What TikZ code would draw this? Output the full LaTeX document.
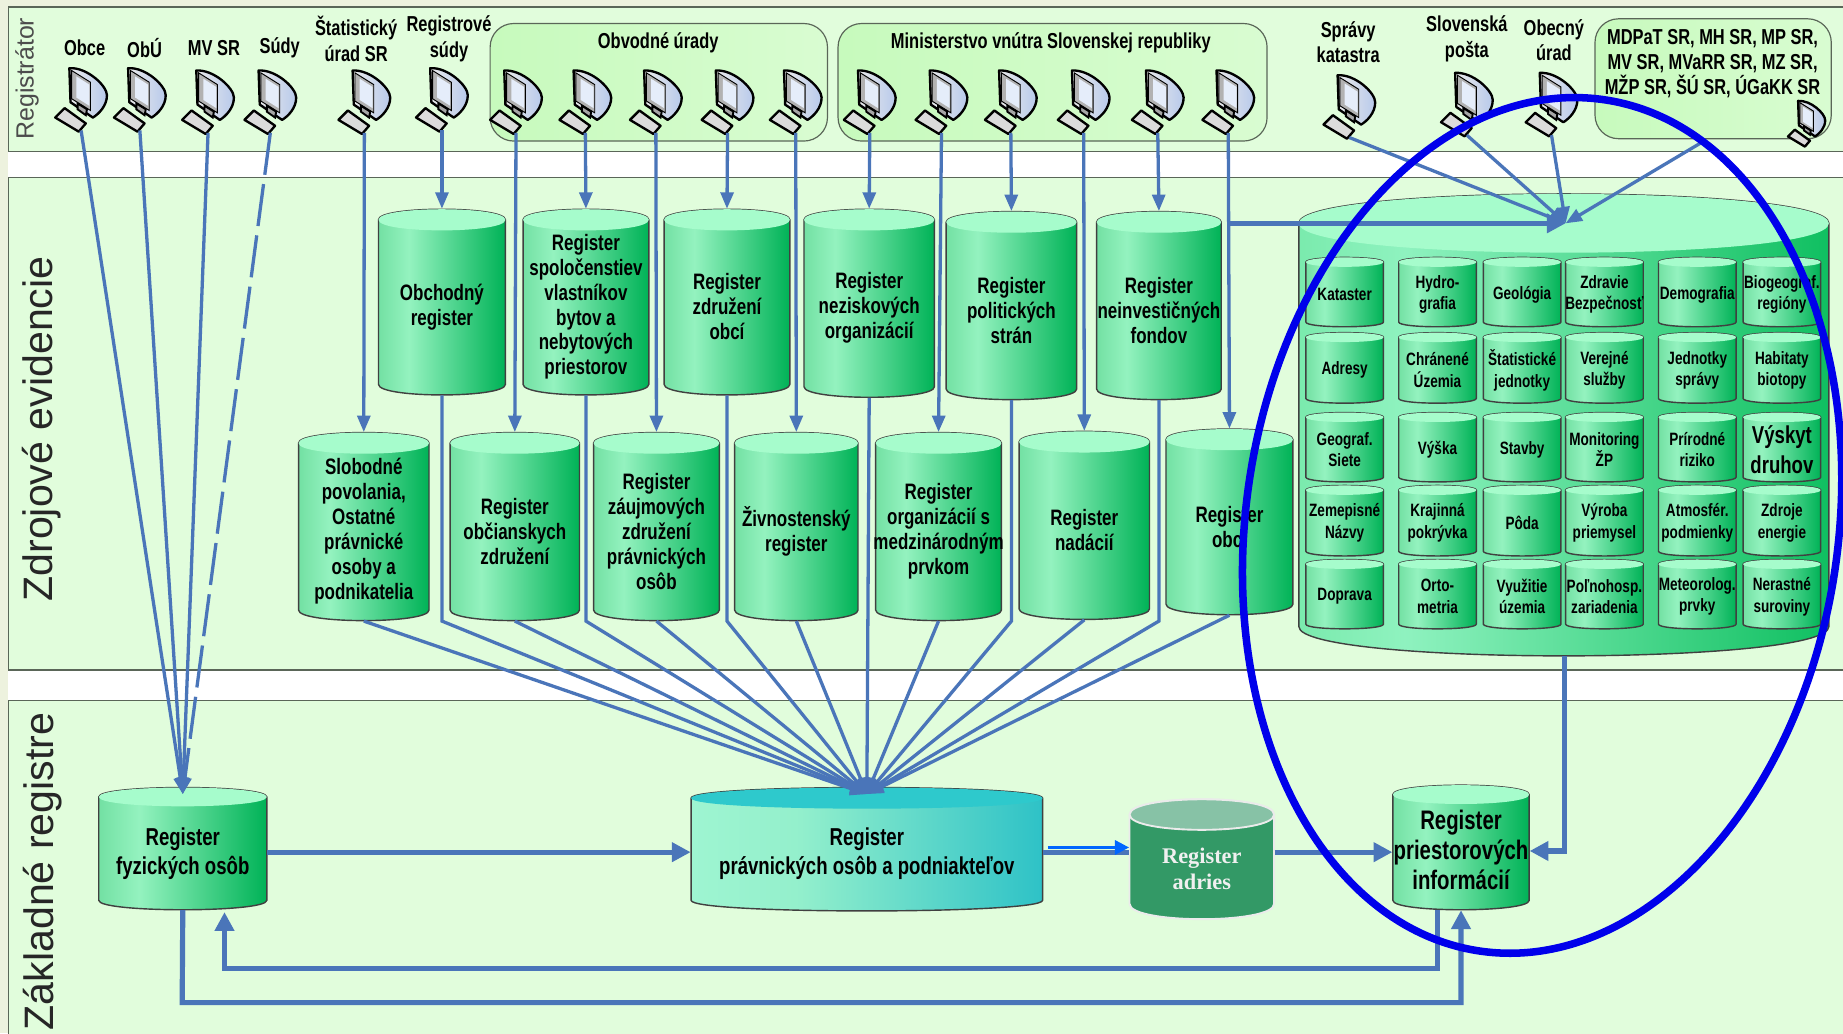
\documentclass[tikz,border=0pt]{standalone}
\usepackage{fontspec}
\usetikzlibrary{arrows.meta}
\newfontfamily\regfont[FakeStretch=.76]{Liberation Sans}
\newfontfamily\bandfont{Liberation Sans}
\newfontfamily\adrfont{Liberation Serif}
\definecolor{margincol}{HTML}{EDF2DE}
\definecolor{bandcol}{HTML}{E1FDDC}
\definecolor{bandline}{HTML}{5A6658}
\definecolor{linkcol}{HTML}{4A75B9}
\definecolor{pcscreen}{rgb}{.90,.93,.98}
\definecolor{pcback}{rgb}{.72,.79,.92}
\pgfdeclarehorizontalshading{cylshade}{100bp}{rgb(0bp)=(.45,.88,.64); rgb(25bp)=(.45,.88,.64); rgb(37bp)=(.58,.95,.75); rgb(75bp)=(0,.70,.34); rgb(100bp)=(0,.70,.34)}
\pgfdeclarehorizontalshading{bigshade}{100bp}{rgb(0bp)=(.48,.92,.68); rgb(25bp)=(.48,.92,.68); rgb(35bp)=(.56,.95,.75); rgb(75bp)=(.06,.75,.38); rgb(100bp)=(.06,.75,.38)}
\pgfdeclarehorizontalshading{tealshade}{100bp}{rgb(0bp)=(.62,.96,.82); rgb(25bp)=(.62,.96,.82); rgb(40bp)=(.58,.94,.80); rgb(75bp)=(.18,.76,.78); rgb(100bp)=(.18,.76,.78)}
\tikzset{
	cylbody/.style={draw=black!75,line width=.6pt,shading=cylshade},
	cyltop/.style={fill={rgb,1:red,.65;green,.99;blue,.80}},
	cyltext/.style={yshift=-2pt,font=\regfont\bfseries\fontsize{9.5}{10.6}\selectfont},
	smallcyl/.style={cyltext/.style={yshift=-1pt,font=\regfont\bfseries\fontsize{7.6}{9.2}\selectfont}},
	largecyl/.style={cyltext/.style={yshift=-1pt,font=\regfont\bfseries\fontsize{10.4}{12.4}\selectfont}},
	fyzcyl/.style={cyltext/.style={yshift=-2pt,font=\regfont\bfseries\fontsize{10.4}{12.4}\selectfont}},
	priestcyl/.style={cyltext/.style={yshift=-1pt,font=\regfont\bfseries\fontsize{11.4}{12.6}\selectfont}},
	bigcyl/.style={cylbody/.style={draw=black!75,line width=.6pt,shading=bigshade}},
	tealcyl/.style={cylbody/.style={draw=black!75,line width=.6pt,shading=tealshade},
		cyltop/.style={fill={rgb,1:red,.18;green,.79;blue,.80}},
		cyltext/.style={yshift=-2pt,font=\regfont\bfseries\fontsize{10.4}{12.4}\selectfont}},
	adrcyl/.style={cylbody/.style={draw=black!8,line width=.8pt,fill={rgb,1:red,.20;green,.60;blue,.40}},
		cyltop/.style={fill={rgb,1:red,.53;green,.76;blue,.65},draw=black!8,line width=.8pt},
		cyltext/.style={yshift=-4pt,text=black!6,font=\adrfont\bfseries\fontsize{9.5}{11}\selectfont}},
	toplabel/.style={inner sep=0pt,align=center,font=\regfont\bfseries\fontsize{9.2}{10.8}\selectfont},
	bandbox/.style={draw=bandline,line width=.6pt,fill=bandcol},
	bandlabel/.style={rotate=90,inner sep=0pt,text=black!85,font=\bandfont\fontsize{17.5}{18}\selectfont},
	groupbox/.style={draw=bandline,line width=.5pt,rounded corners=10pt,left color={rgb,1:red,.78;green,.98;blue,.74},right color={rgb,1:red,.85;green,.99;blue,.82},inner sep=0pt},
	thinlink/.style={draw=linkcol,line width=1.4pt,-{Triangle[length=7pt,width=5.5pt]}},
	thicklink/.style={draw=linkcol,line width=2.2pt,-{Triangle[length=8pt,width=8pt]}},
	thickplain/.style={draw=linkcol,line width=2.2pt},
	adrlink/.style={draw={rgb,1:red,0;green,.40;blue,1},line width=1.2pt,-{Triangle[length=6pt,width=6pt]}},
	blueoval/.style={draw={rgb,1:red,0;green,0;blue,.92},line width=3.2pt},
	pcline/.style={draw=black,line width=1pt},
	pcicon/.pic={
		\draw[pcline,line join=round,left color=black!8,right color=pcback] (-10,-53) .. controls (5,-54) and (22,-38) .. (22,-30) .. controls (22,-21) and (15,-14) .. (10,-11) -- (-9,-24) -- cycle;
		\draw[draw=black,line width=.4pt,fill=black!30] (-8,-51) -- (8,-41) -- (8,-17) -- (-8,-27) -- cycle;
		\fill[pcscreen] (-4,-46) -- (7,-39) -- (7,-21) -- (-4,-28) -- cycle;
		\draw[draw=black,line width=.8pt,fill=black!35] (-3,-23) -- (5,-18) -- (4,-13) -- (-3,-18) -- cycle;
		\draw[pcline,line join=round,fill=black!14] (-22,-11) -- (-14,-19) -- (4,-6) -- (-2,1) -- cycle;
		\coordinate (-out) at (0,0);
	}
}
% name, left, top, right, bottom, depth of the end, text
\newcommand{\regcyl}[8][]{%
	\begin{scope}[#1]
		\pgfmathsetmacro{\cylw}{(#5-#3)*.5}
		\pgfmathsetmacro{\cylh}{(#6-#4)*.5}
		\path[cylbody] (#3,#4+#7) .. controls (#3,#4-#7/3) and (#5,#4-#7/3) .. (#5,#4+#7) -- (#5,#6-#7) .. controls (#5,#6+#7/3) and (#3,#6+#7/3) .. (#3,#6-#7) -- cycle;
		\path[cyltop] (#3,#4+#7) .. controls (#3,#4-#7/3) and (#5,#4-#7/3) .. (#5,#4+#7) .. controls (#5,#4+#7*7/3) and (#3,#4+#7*7/3) .. (#3,#4+#7) -- cycle;
		\node[inner sep=0pt,minimum width=\cylw pt,minimum height=\cylh pt] (#2) at ({(#3+#5)/2},{(#4+#6)/2}) {};
		\node[cyltext,inner sep=0pt,align=center] (#2text) at (#2.center) {#8};
	\end{scope}}

\begin{document}
\begin{tikzpicture}[x=.5pt,y=-.5pt]
	\clip (0,0) rectangle (1568,879);
	\fill[margincol] (0,0) rectangle (1568,879);
	\fill[white] (7,125) rectangle (1568,600);
	\draw[bandbox] (7,6) rectangle (1580,129);
	\draw[bandbox] (7,151) rectangle (1580,570);
	\draw[bandbox] (7,596) rectangle (1580,900);
	\node[bandlabel,text=black!70,font=\bandfont\fontsize{10.6}{11}\selectfont] (regband) at (23,67) {Registrátor};
	\node[bandlabel] (zdrband) at (35,365) {Zdrojové evidencie};
	\node[bandlabel,anchor=west] (zakband) at (36,877) {Základné registre};
	%%%%%%%%%%%%%%%%%%%%%%%%%%%%%%%%%
	\node[groupbox,minimum width=143.5pt,minimum height=50pt] (obvod) at (560.5,70) {};
	\node[groupbox,minimum width=182.5pt,minimum height=50pt] (minis) at (895.5,70) {};
	\node[groupbox,minimum width=100.5pt,minimum height=51pt] (mdpat) at (1457.5,67) {};
	\coordinate (mdpatout) at (1448,121);
	%%%%%%%%%%%%%%%%%%%%%%%%%%%%%%%%%
	\node[toplabel] (lobce) at (72,41) {Obce};
	\node[toplabel] (lobu) at (123,41) {ObÚ};
	\node[toplabel] (lmv) at (182,41) {MV SR};
	\node[toplabel] (lsudy) at (238,41) {Súdy};
	\node[toplabel] (lstat) at (303,33) {Štatistický\\úrad SR};
	\node[toplabel] (lregs) at (382,33) {Registrové\\súdy};
	\node[toplabel] (lobv) at (560,36) {Obvodné úrady};
	\node[toplabel] (lmin) at (894,36) {Ministerstvo vnútra Slovenskej republiky};
	\node[toplabel] (lspr) at (1147,36) {Správy\\katastra};
	\node[toplabel] (lpos) at (1248,33) {Slovenská\\pošta};
	\node[toplabel] (lobu2) at (1322,34) {Obecný\\úrad};
	\node[toplabel,font=\regfont\bfseries\fontsize{9.2}{10.6}\selectfont] (lmdp) at (1457,54) {MDPaT SR, MH SR, MP SR,\\MV SR, MVaRR SR, MZ SR,\\MŽP SR, ŠÚ SR, ÚGaKK SR};
	%%%%%%%%%%%%%%%%%%%%%%%%%%%%%%%%%
	\pic (pcobce) at (69,111) {pcicon};
	\pic (pcobu) at (119,111) {pcicon};
	\pic (pcmv) at (177,113) {pcicon};
	\pic (pcsud) at (230,113) {pcicon};
	\pic (pcstat) at (310,113) {pcicon};
	\pic (pcregs) at (376,111) {pcicon};
	\pic (pcoa) at (439,113) {pcicon};
	\pic (pcob) at (498,113) {pcicon};
	\pic (pcoc) at (558,113) {pcicon};
	\pic (pcod) at (619,113) {pcicon};
	\pic (pcoe) at (677,113) {pcicon};
	\pic (pcma) at (740,113) {pcicon};
	\pic (pcmb) at (801,113) {pcicon};
	\pic (pcmc) at (860,113) {pcicon};
	\pic (pcmd) at (922,113) {pcicon};
	\pic (pcme) at (985,113) {pcicon};
	\pic (pcmf) at (1045,113) {pcicon};
	\pic (pcspr) at (1148,117) {pcicon};
	\pic (pcpos) at (1248,115) {pcicon};
	\pic (pcobe) at (1320,115) {pcicon};
	\pic[scale=.72] (pcmdp) at (1537,124) {pcicon};
	%%%%%%%%%%%%%%%%%%%%%%%%%%%%%%%%%
	\regcyl{obch}{322}{178}{430}{336}{9}{Obchodný\\register}
	\regcyl{spol}{445}{178}{552}{336}{9}{Register\\spoločenstiev\\vlastníkov\\bytov a\\nebytových\\priestorov}
	\regcyl{zdro}{565}{178}{672}{336}{9}{Register\\združení\\obcí}
	\regcyl{nezi}{684}{178}{795}{338}{9}{Register\\neziskových\\organizácií}
	\regcyl{poli}{805}{180}{916}{340}{9}{Register\\politických\\strán}
	\regcyl{nein}{933}{180}{1039}{340}{9}{Register\\neinvestičných\\fondov}
	\regcyl{slob}{254}{368}{365}{528}{9}{Slobodné\\povolania,\\Ostatné\\právnické\\osoby a\\podnikatelia}
	\regcyl{obcz}{383}{368}{493}{528}{9}{Register\\občianskych\\združení}
	\regcyl{zauj}{505}{368}{612}{528}{9}{Register\\záujmových\\združení\\právnických\\osôb}
	\regcyl{zivn}{625}{368}{730}{528}{9}{Živnostenský\\register}
	\regcyl{orga}{745}{368}{852}{528}{9}{Register\\organizácií s\\medzinárodným\\prvkom}
	\regcyl{nada}{867}{367}{978}{527}{9}{Register\\nadácií}
	\regcyl{obci}{992}{365}{1100}{523}{9}{Register\\obcí}
	%%%%%%%%%%%%%%%%%%%%%%%%%%%%%%%%%
	\regcyl[bigcyl]{zbgis}{1105}{165}{1556}{558}{25}{}
	\coordinate (zbgistip) at (1332,190);
	\regcyl[smallcyl]{kat}{1111}{219}{1177}{278}{4}{Kataster}
	\regcyl[smallcyl]{hyd}{1190}{219}{1256}{278}{4}{Hydro-\\grafia}
	\regcyl[smallcyl]{geo}{1262}{219}{1328}{278}{4}{Geológia}
	\regcyl[smallcyl]{zdr}{1332}{219}{1398}{278}{4}{Zdravie\\Bezpečnosť}
	\regcyl[smallcyl]{dem}{1411}{219}{1477}{278}{4}{Demografia}
	\regcyl[smallcyl]{bio}{1483}{219}{1549}{278}{4}{Biogeograf.\\regióny}
	\regcyl[smallcyl]{adr}{1111}{283}{1177}{343}{4}{Adresy}
	\regcyl[smallcyl]{chr}{1190}{283}{1256}{343}{4}{Chránené\\Územia}
	\regcyl[smallcyl]{sta}{1262}{283}{1328}{343}{4}{Štatistické\\jednotky}
	\regcyl[smallcyl]{ver}{1332}{283}{1398}{343}{4}{Verejné\\služby}
	\regcyl[smallcyl]{jed}{1411}{283}{1477}{343}{4}{Jednotky\\správy}
	\regcyl[smallcyl]{hab}{1483}{283}{1549}{343}{4}{Habitaty\\biotopy}
	\regcyl[smallcyl]{sie}{1111}{351}{1177}{410}{4}{Geograf.\\Siete}
	\regcyl[smallcyl]{vys}{1190}{351}{1256}{410}{4}{Výška}
	\regcyl[smallcyl]{stv}{1262}{351}{1328}{410}{4}{Stavby}
	\regcyl[smallcyl]{mon}{1332}{351}{1398}{410}{4}{Monitoring\\ŽP}
	\regcyl[smallcyl]{pri}{1411}{351}{1477}{410}{4}{Prírodné\\riziko}
	\regcyl[largecyl]{vyk}{1483}{351}{1549}{410}{4}{Výskyt\\druhov}
	\regcyl[smallcyl]{zem}{1111}{413}{1177}{473}{4}{Zemepisné\\Názvy}
	\regcyl[smallcyl]{kra}{1190}{413}{1256}{473}{4}{Krajinná\\pokrývka}
	\regcyl[smallcyl]{pod}{1262}{413}{1328}{473}{4}{Pôda}
	\regcyl[smallcyl]{vyr}{1332}{413}{1398}{473}{4}{Výroba\\priemysel}
	\regcyl[smallcyl]{atm}{1411}{413}{1477}{473}{4}{Atmosfér.\\podmienky}
	\regcyl[smallcyl]{zdj}{1483}{413}{1549}{473}{4}{Zdroje\\energie}
	\regcyl[smallcyl]{dop}{1111}{476}{1177}{535}{4}{Doprava}
	\regcyl[smallcyl]{ort}{1190}{476}{1256}{535}{4}{Orto-\\metria}
	\regcyl[smallcyl]{vyu}{1262}{476}{1328}{535}{4}{Využitie\\územia}
	\regcyl[smallcyl]{pol}{1332}{476}{1398}{535}{4}{Poľnohosp.\\zariadenia}
	\regcyl[smallcyl]{met}{1411}{476}{1477}{535}{4}{Meteorolog.\\prvky}
	\regcyl[smallcyl]{ner}{1483}{476}{1549}{535}{4}{Nerastné\\suroviny}
	%%%%%%%%%%%%%%%%%%%%%%%%%%%%%%%%%
	\regcyl[fyzcyl]{fyz}{84}{670}{227}{774}{8}{Register\\fyzických osôb}
	\regcyl[tealcyl]{prav}{588}{670}{887}{775}{9}{Register\\právnických osôb a podniakteľov}
	\regcyl[adrcyl]{adri}{961}{680}{1084}{782}{13}{Register\\adries}
	\regcyl[priestcyl]{prie}{1185}{668}{1301}{774}{8}{Register\\priestorových\\informácií}
	\coordinate (midrow) at (0,725);
	\coordinate (adrrow) at (0,721);
	\coordinate (zbgisout) at (1331,558);
	\coordinate (zbgisknee) at (1331,724);
	\coordinate (retout) at (1223,774);
	\coordinate (retkneea) at (1223,824);
	\coordinate (retkneeb) at (191,824);
	\coordinate (retin) at (191,776);
	\coordinate (fwdkneea) at (155,853);
	\coordinate (fwdkneeb) at (1243,853);
	%%%%%%%%%%%%%%%%%%%%%%%%%%%%%%%%%
	\draw[thinlink] (pcobce-out) -- ([yshift=-3pt]fyz.north);
	\draw[thinlink] (pcobu-out) -- ([yshift=-3pt]fyz.north);
	\draw[thinlink] (pcmv-out) -- ([yshift=-3pt]fyz.north);
	\draw[thinlink,dash pattern=on 18pt off 4pt] (pcsud-out) -- ([yshift=-3pt]fyz.north);
	\draw[thinlink] (pcstat-out) -- (slob.north);
	\draw[thinlink] (pcregs-out) -- (obch.north);
	\draw[thinlink] (pcoa-out) -- (obcz.north);
	\draw[thinlink] (pcob-out) -- (spol.north);
	\draw[thinlink] (pcoc-out) -- (zauj.north);
	\draw[thinlink] (pcod-out) -- (zdro.north);
	\draw[thinlink] (pcoe-out) -- (zivn.north);
	\draw[thinlink] (pcma-out) -- (nezi.north);
	\draw[thinlink] (pcmb-out) -- (orga.north);
	\draw[thinlink] (pcmc-out) -- (poli.north);
	\draw[thinlink] (pcmd-out) -- (nada.north);
	\draw[thinlink] (pcme-out) -- (nein.north);
	\draw[thinlink] (pcmf-out) -- (obci.north);
	\draw[thinlink] (pcspr-out) -- (zbgistip);
	\draw[thinlink] (pcpos-out) -- (zbgistip);
	\draw[thinlink] (pcobe-out) -- (zbgistip);
	\draw[thinlink] (mdpatout) -- (zbgistip);
	\draw[thicklink] (pcmf-out |- zbgistip) -- (zbgistip);
	%%%%%%%%%%%%%%%%%%%%%%%%%%%%%%%%%
	\draw[thinlink] (slob.south) -- ([yshift=-3pt]prav.north);
	\draw[thinlink] (obcz.south) -- ([yshift=-3pt]prav.north);
	\draw[thinlink] (zauj.south) -- ([yshift=-3pt]prav.north);
	\draw[thinlink] (zivn.south) -- ([yshift=-3pt]prav.north);
	\draw[thinlink] (orga.south) -- ([yshift=-3pt]prav.north);
	\draw[thinlink] (nada.south) -- ([yshift=-3pt]prav.north);
	\draw[thinlink] (obci.south) -- ([yshift=-3pt]prav.north);
	\draw[thinlink] (obch.south) -- (obch.south |- obcz.south) -- ([yshift=-3pt]prav.north);
	\draw[thinlink] (spol.south) -- (spol.south |- obcz.south) -- ([yshift=-3pt]prav.north);
	\draw[thinlink] (zdro.south) -- (zdro.south |- obcz.south) -- ([yshift=-3pt]prav.north);
	\draw[thinlink] (nezi.south) -- ([yshift=-3pt]prav.north);
	\draw[thinlink] (poli.south) -- (poli.south |- obcz.south) -- ([yshift=-3pt]prav.north);
	\draw[thinlink] (nein.south) -- (nein.south |- obcz.south) -- ([yshift=-3pt]prav.north);
	%%%%%%%%%%%%%%%%%%%%%%%%%%%%%%%%%
	\draw[thicklink] (fyz.east |- midrow) -- (prav.west |- midrow);
	\draw[thickplain] (prav.east |- midrow) -- (adri.west |- midrow);
	\draw[adrlink] ([xshift=2pt]prav.east |- adrrow) -- (adri.west |- adrrow);
	\draw[thicklink] (adri.east |- midrow) -- (prie.west |- midrow);
	\draw[thicklink] (zbgisout) -- (zbgisknee) -- (prie.east |- zbgisknee);
	\draw[thicklink] (retout) -- (retkneea) -- (retkneeb) -- (retin);
	\draw[thicklink] (fyz.south) -- (fwdkneea) -- (fwdkneeb) -- (prie.south -| fwdkneeb);
	%%%%%%%%%%%%%%%%%%%%%%%%%%%%%%%%%
	\draw[blueoval,rotate around={-8.3:(1312,447)}] (1312,447) ellipse [x radius=126pt,y radius=183pt];
\end{tikzpicture}
\end{document}
